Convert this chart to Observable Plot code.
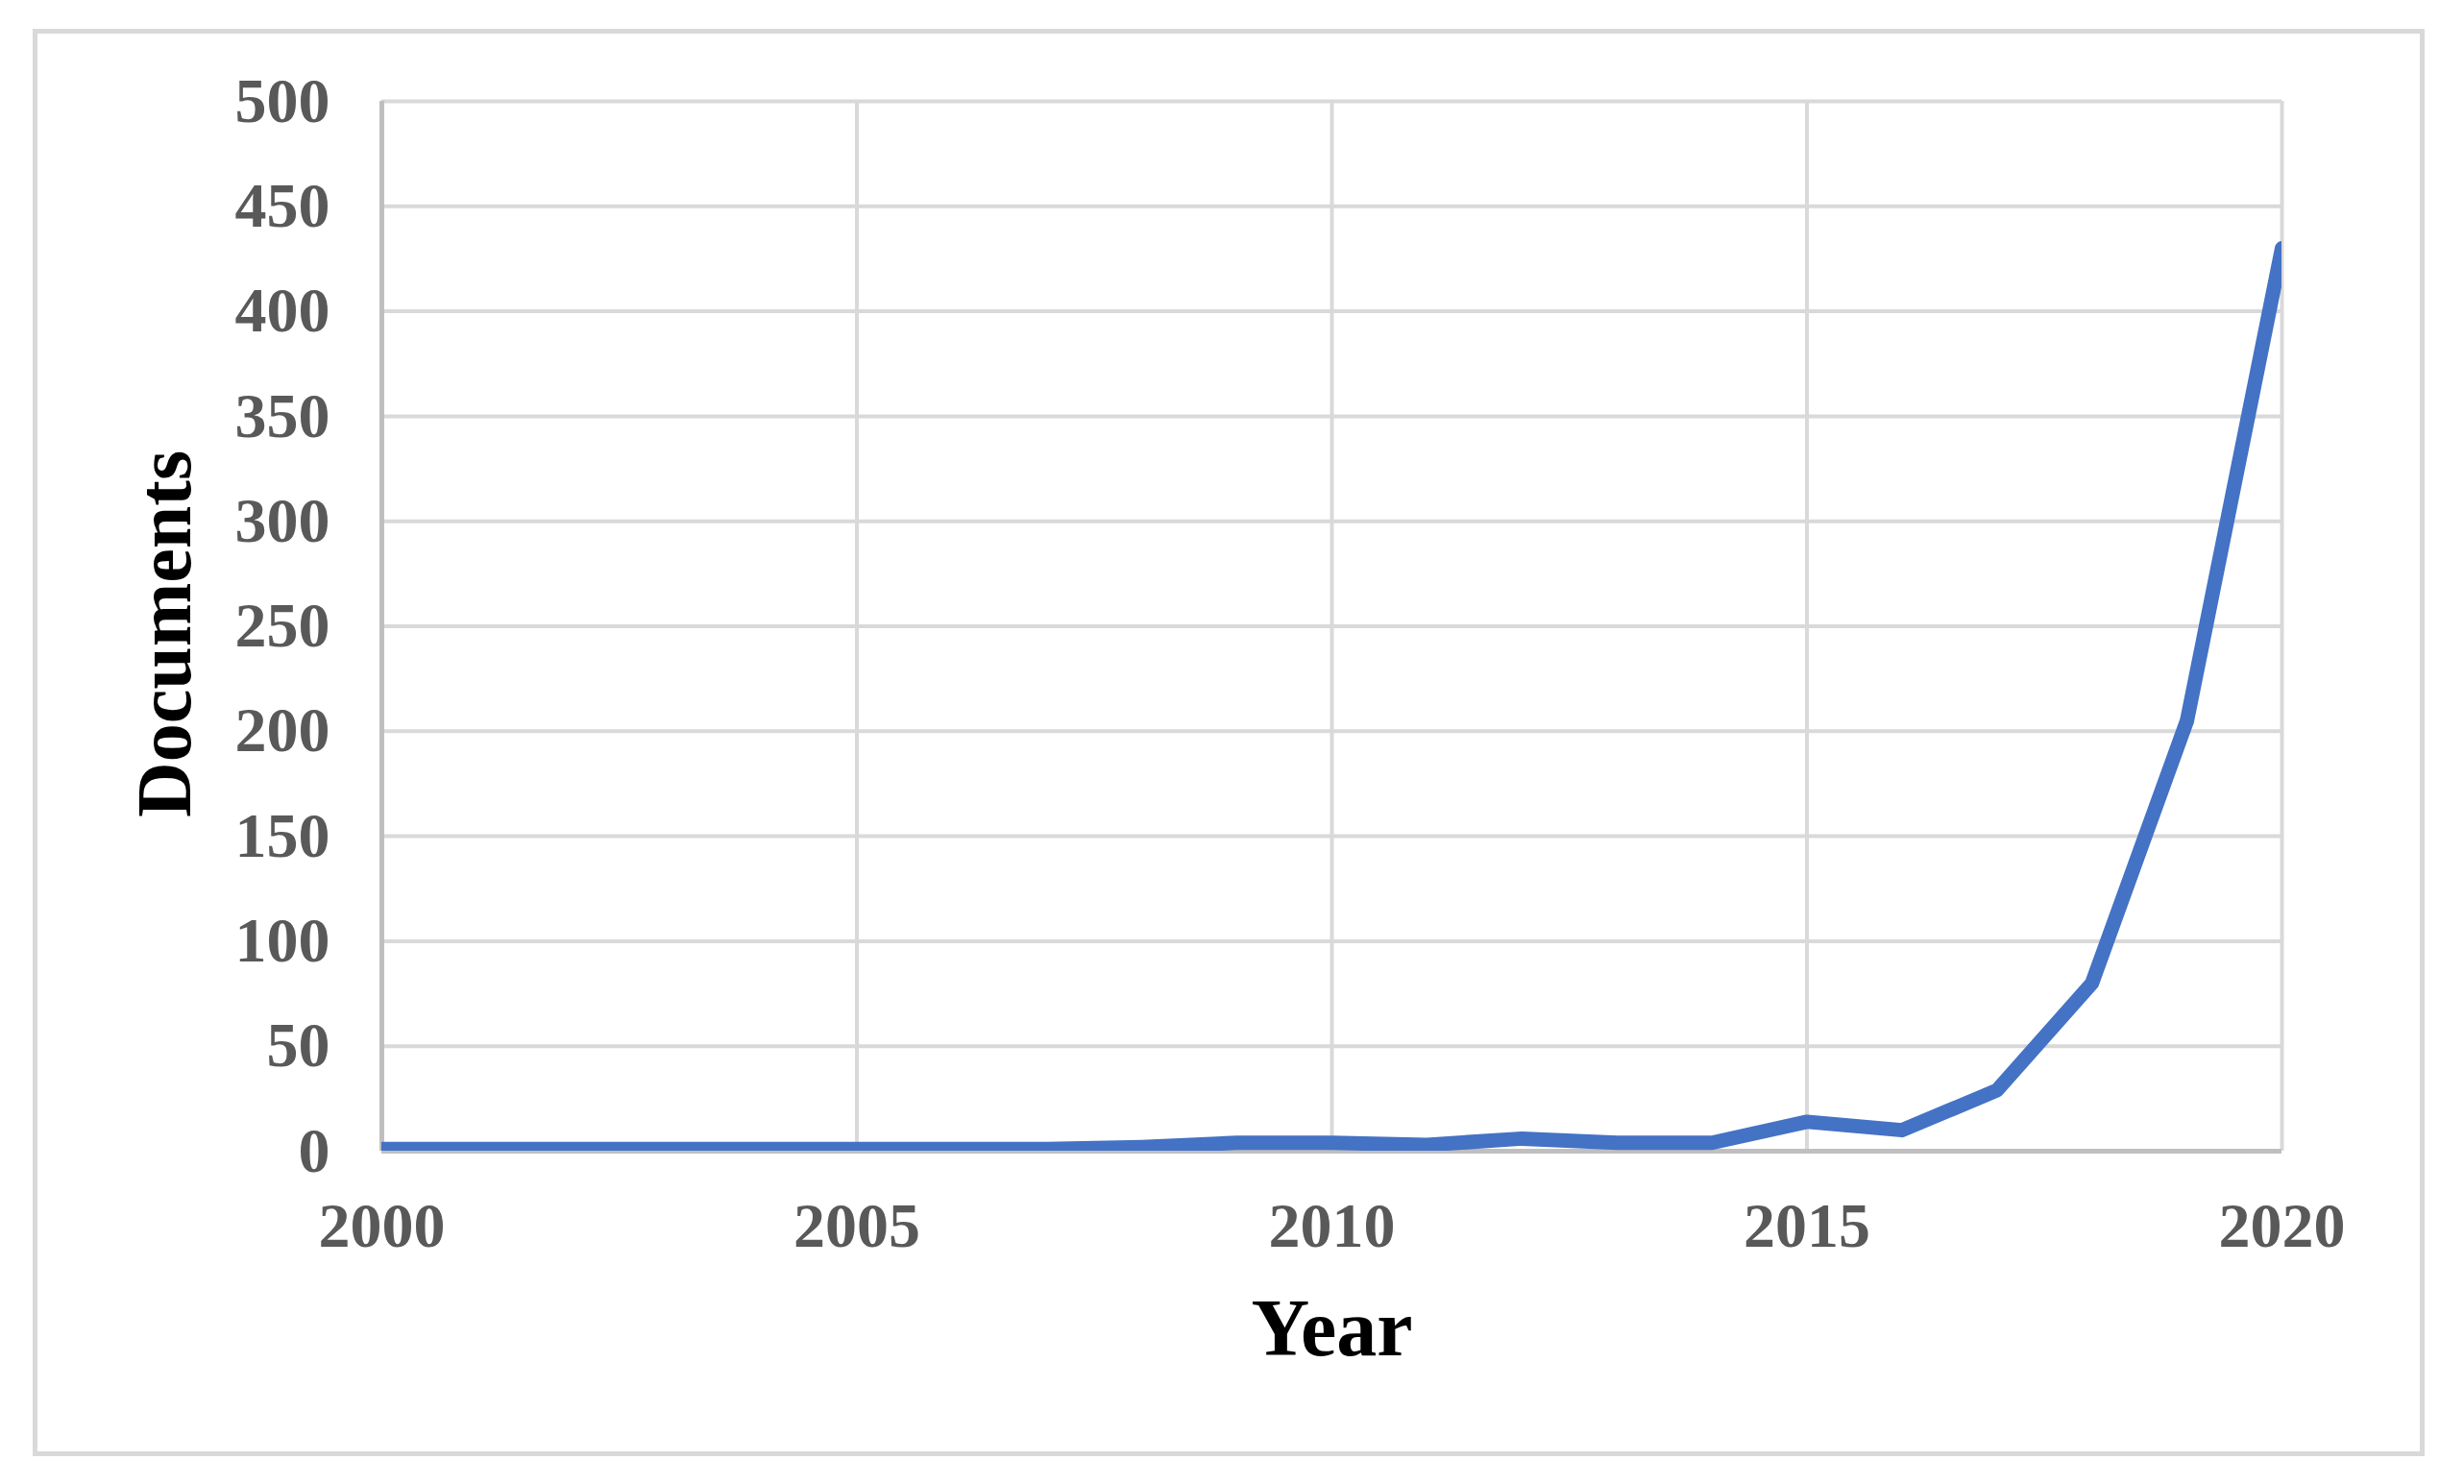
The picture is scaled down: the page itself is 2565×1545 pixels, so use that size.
<!DOCTYPE html>
<html>
<head>
<meta charset="utf-8">
<script src="https://cdn.jsdelivr.net/npm/d3@7"></script>
<script src="https://cdn.jsdelivr.net/npm/@observablehq/plot@0.6"></script>
<style>
  html, body { margin: 0; padding: 0; background: #fff; }
  #wrap { position: relative; width: 2565px; height: 1545px; overflow: hidden; }
  #frame { position: absolute; left: 34px; top: 30px; width: 2490px; height: 1486px;
           box-sizing: border-box; border: 5px solid #d9d9d9; pointer-events: none; }
</style>
</head>
<body>
<div id="wrap"><div id="frame"></div></div>
<script>
const years = [2000, 2001, 2002, 2003, 2004, 2005, 2006, 2007, 2008, 2009, 2010,
               2011, 2012, 2013, 2014, 2015, 2016, 2017, 2018, 2019, 2020];
const documents = [1, 1, 1, 1, 1, 1, 1, 1, 2, 4, 4, 3, 6, 4, 4, 14, 10, 29, 80, 205, 430];
const xTicks = [2000, 2005, 2010, 2015, 2020];
const yTicks = [0, 50, 100, 150, 200, 250, 300, 350, 400, 450, 500];

const rows = years.map((year, i) => ({year, docs: documents[i]}));

const chart = Plot.plot({
  width: 2565,
  height: 1545,
  marginLeft: 397,
  marginRight: 190,
  marginTop: 105,
  marginBottom: 347,
  style: {fontFamily: "'Liberation Serif', 'Times New Roman', serif", fontWeight: "bold", background: "transparent"},
  x: {domain: [2000, 2020]},
  y: {domain: [0, 500]},
  marks: [
    Plot.gridX(xTicks, {stroke: "#d9d9d9", strokeOpacity: 1, strokeWidth: 4}),
    Plot.gridY(yTicks, {stroke: "#d9d9d9", strokeOpacity: 1, strokeWidth: 4}),
    Plot.ruleX([2000], {stroke: "#bfbfbf", strokeWidth: 5}),
    Plot.ruleY([0], {stroke: "#bfbfbf", strokeWidth: 5}),
    Plot.axisX(xTicks, {tickSize: 0, tickPadding: 53, fontSize: 66, color: "#595959", label: null, tickFormat: d => String(d)}),
    Plot.axisY(yTicks, {tickSize: 0, tickPadding: 54, fontSize: 66, color: "#595959", label: null}),
    Plot.line(rows, {x: "year", y: "docs", stroke: "#4472C4", strokeWidth: 15, clip: true}),
    Plot.text(["Documents"], {text: d => d, frameAnchor: "left", textAnchor: "middle", dx: -225, dy: 8, rotate: -90, fontSize: 80, fill: "#000"}),
    Plot.text(["Year"], {text: d => d, frameAnchor: "bottom", textAnchor: "middle", dy: 212, fontSize: 84, fill: "#000"})
  ]
});
chart.style.position = "absolute";
chart.style.left = "0px";
chart.style.top = "0px";
document.getElementById("wrap").appendChild(chart);
</script>
</body>
</html>
